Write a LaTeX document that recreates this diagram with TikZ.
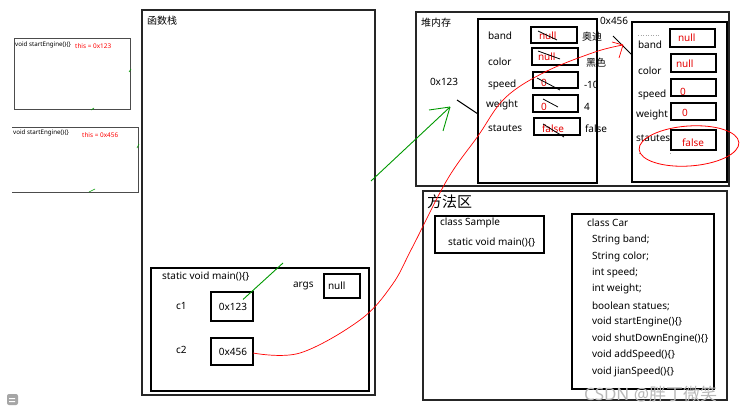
\documentclass[tikz,border=0pt]{standalone}
\usepackage{fontspec}
\setmainfont{Noto Sans}
\newfontfamily\cjk{Noto Sans CJK SC}
\begin{document}
\begin{tikzpicture}[x=1pt,y=-1pt,
  txt/.style={inner sep=0pt, outer sep=0pt, anchor=west, font=\fontsize{10}{11}\selectfont},
  red txt/.style={txt, text=red!90!black},
  tiny/.style={inner sep=0pt, anchor=west, font=\fontsize{6.2}{7}\selectfont},
  box/.style={draw=black, line width=1.1pt, inner sep=0pt, outer sep=0pt},
  outer/.style={draw=black!85, line width=1.5pt, inner sep=0pt, outer sep=0pt},
  thin box/.style={draw=black!70, line width=0.9pt, inner sep=0pt, outer sep=0pt},
  strike/.style={black, line width=0.8pt},
  greenline/.style={draw=green!60!black, line width=0.9pt},
  redline/.style={draw=red, line width=0.7pt}]
\newcommand\boxnode[6]{\node[#6, minimum width={(#4-#2)*1pt}, minimum height={(#5-#3)*1pt}] (#1) at ({(#2+#4)/2},{(#3+#5)/2}) {};}
\useasboundingbox[fill=white] (0,0) rectangle (751,412);

% left frames
\boxnode{frameA}{14}{38}{130}{109}{thin box}
\node[tiny] (fa) at (15,45) {void startEngine()\{\}};
\node[tiny, text=red, font=\fontsize{6.4}{7}\selectfont\bfseries] (fat) at (75,46) {this = 0x123};
\draw[thin box] (12,127) -- (138,127) -- (138,192) -- (12,192);
\coordinate (frameBnw) at (12,127);
\node[tiny] (fb) at (13,133) {void startEngine()\{\}};
\node[tiny, text=red, font=\fontsize{6.4}{7}\selectfont\bfseries] (fbt) at (82,135) {this = 0x456};
\draw[greenline, line width=0.6pt] (129,72) -- (131,69);
\draw[greenline, line width=0.6pt] (91,110) -- (94,108);
\draw[greenline, line width=0.6pt] (137,148) -- (139,144);
\draw[greenline, line width=0.6pt] (89,192) -- (95,189);

% function stack
\boxnode{stack}{142}{10}{375}{395}{outer}
\node[txt] (stackt) at (147,21) {\cjk 函数栈};
\boxnode{mainf}{151}{268}{369}{391}{box}
\node[txt] (mainl) at (162,276) {static void main()\{\}};
\node[txt] (argsl) at (293,286) {args};
\boxnode{argsb}{324}{274}{360}{298}{box}
\node[txt] (argsv) at (328,286) {null};
\node[txt] (c1l) at (176,306) {c1};
\boxnode{c1b}{211}{292}{253}{321}{box}
\node[txt, anchor=center] (c1v) at (233,307) {0x123};
\node[txt] (c2l) at (176,350) {c2};
\boxnode{c2b}{211}{338}{253}{365}{box}
\node[txt, anchor=center] (c2v) at (233,352) {0x456};

% heap
\boxnode{heap}{416}{12}{729}{186}{outer}
\node[txt] (heapt) at (421,23) {\cjk 堆内存};
\node[txt] (addr1) at (430,82) {0x123};
\node[txt] (addr2) at (600,21) {0x456};
\boxnode{obj1}{478}{19}{597}{183}{box}
\boxnode{obj2}{632}{22}{727}{182}{box}
\draw[black, line width=1pt] (457,100) -- (obj1.west |- 0,114);
\draw[black, line width=1pt] (613,36) -- (obj2.west |- 0,55);

% object 1 fields
\node[txt] (o1a) at (488,36) {band};
\node[txt] (o1b) at (488,62) {color};
\node[txt] (o1c) at (488,85) {speed};
\node[txt] (o1d) at (486,105) {weight};
\node[txt] (o1e) at (488,128) {stautes};
\boxnode{o1ab}{531}{27}{577}{43}{box}
\boxnode{o1bb}{532}{48}{578}{65}{box}
\boxnode{o1cb}{533}{72}{578}{88}{box}
\boxnode{o1db}{533}{95}{578}{112}{box}
\boxnode{o1eb}{534}{118}{580}{135}{box}
\node[red txt] (o1av) at (539,36) {null};
\node[red txt] (o1bv) at (538,57) {null};
\node[red txt] (o1cv) at (541,83) {0};
\node[red txt] (o1dv) at (541,107) {0};
\node[red txt] (o1ev) at (542,129) {false};
\draw[strike] (538,31) -- (557,40);
\draw[strike] (538,51) -- (560,59);
\draw[strike] (537,78) -- (560,90);
\draw[strike] (543,99) -- (558,107);
\draw[strike] (543,124) -- (564,137);
\node[txt] (o1ax) at (582,37) {\cjk 奥迪};
\node[txt] (o1bx) at (586,63) {\cjk 黑色};
\node[txt] (o1cx) at (584,85) {-10};
\node[txt] (o1dx) at (584,107) {4};
\node[txt] (o1ex) at (585,129) {false};

% object 2 fields
\draw[gray!70, line width=0.6pt, dash pattern=on 1pt off 1.5pt] (638,35) -- (660,35);
\node[txt] (o2a) at (638,45) {band};
\node[txt] (o2b) at (638,71) {color};
\node[txt] (o2c) at (638,95) {speed};
\node[txt] (o2d) at (636,115) {weight};
\node[txt] (o2e) at (636,138) {stautes};
\draw[gray!70, line width=0.6pt] (639,153) -- (640,153) (670,153) -- (671,153);
\boxnode{o2ab}{670}{29}{715}{47}{box}
\boxnode{o2bb}{671}{54}{716}{72}{box}
\boxnode{o2cb}{671}{79}{716}{96}{box}
\boxnode{o2db}{671}{103}{716}{120}{box}
\boxnode{o2eb}{671}{130}{716}{150}{box}
\node[red txt] (o2av) at (678,38) {null};
\node[red txt] (o2bv) at (676,64) {null};
\node[red txt] (o2cv) at (680,92) {0};
\node[red txt] (o2dv) at (682,113) {0};
\node[red txt] (o2ev) at (682,143) {false};
\draw[redline, line width=0.8pt, rotate around={4:(689,146)}] (689,146) ellipse [x radius=50, y radius=20];

% method area
\boxnode{method}{423}{191}{727}{400}{outer}
\node[txt, font=\fontsize{15}{16}\selectfont] (methodt) at (427,202) {\cjk 方法区};
\boxnode{sample}{435}{216}{544}{253}{box}
\node[txt] (s1) at (440,223) {class Sample};
\node[txt] (s2) at (448,242) {static void main()\{\}};
\boxnode{car}{572}{214}{714}{389}{box}
\node[txt] (k0) at (587,223) {class Car};
\node[txt] (k1) at (592,240) {String band;};
\node[txt] (k2) at (592,257) {String color;};
\node[txt] (k3) at (592,273) {int speed;};
\node[txt] (k4) at (592,289) {int weight;};
\node[txt] (k5) at (592,306) {boolean statues;};
\node[txt] (k6) at (592,322) {void startEngine()\{\}};
\node[txt] (k7) at (592,339) {void shutDownEngine()\{\}};
\node[txt] (k8) at (592,355) {void addSpeed()\{\}};
\node[txt] (k9) at (592,372) {void jianSpeed()\{\}};

% green reference 0x123
\coordinate (g1) at (283,263);
\coordinate (g2) at (371,181);
\coordinate (gt) at (450,107);
\draw[greenline] (c1b.center) ++(11,-7) -- (g1);
\draw[greenline] (g2) -- (gt);
\draw[greenline] (gt) -- (429,110) (gt) -- (443,131);

% red reference 0x456
\coordinate (rt) at (623,45);
\draw[redline] plot[smooth, tension=0.6] coordinates {(c2b.east |- 0,353) (300,353) (360,320) (392,285) (412,248) (447,180) (478,136) (505,98) (545,72) (595,52) (rt)};
\draw[redline] (rt) -- (612,42) (rt) -- (619,58);

% watermark and icon
\node[txt, text=gray!55, font=\fontsize{17}{18}\selectfont] (wm) at (584,394) {CSDN @\cjk 胖丁微笑};
\fill[gray!70, rounded corners=2pt] (7,394) rectangle (18,405);
\fill[white] (9,398) rectangle (15,399) (9,401) rectangle (15,402);
\end{tikzpicture}
\end{document}
